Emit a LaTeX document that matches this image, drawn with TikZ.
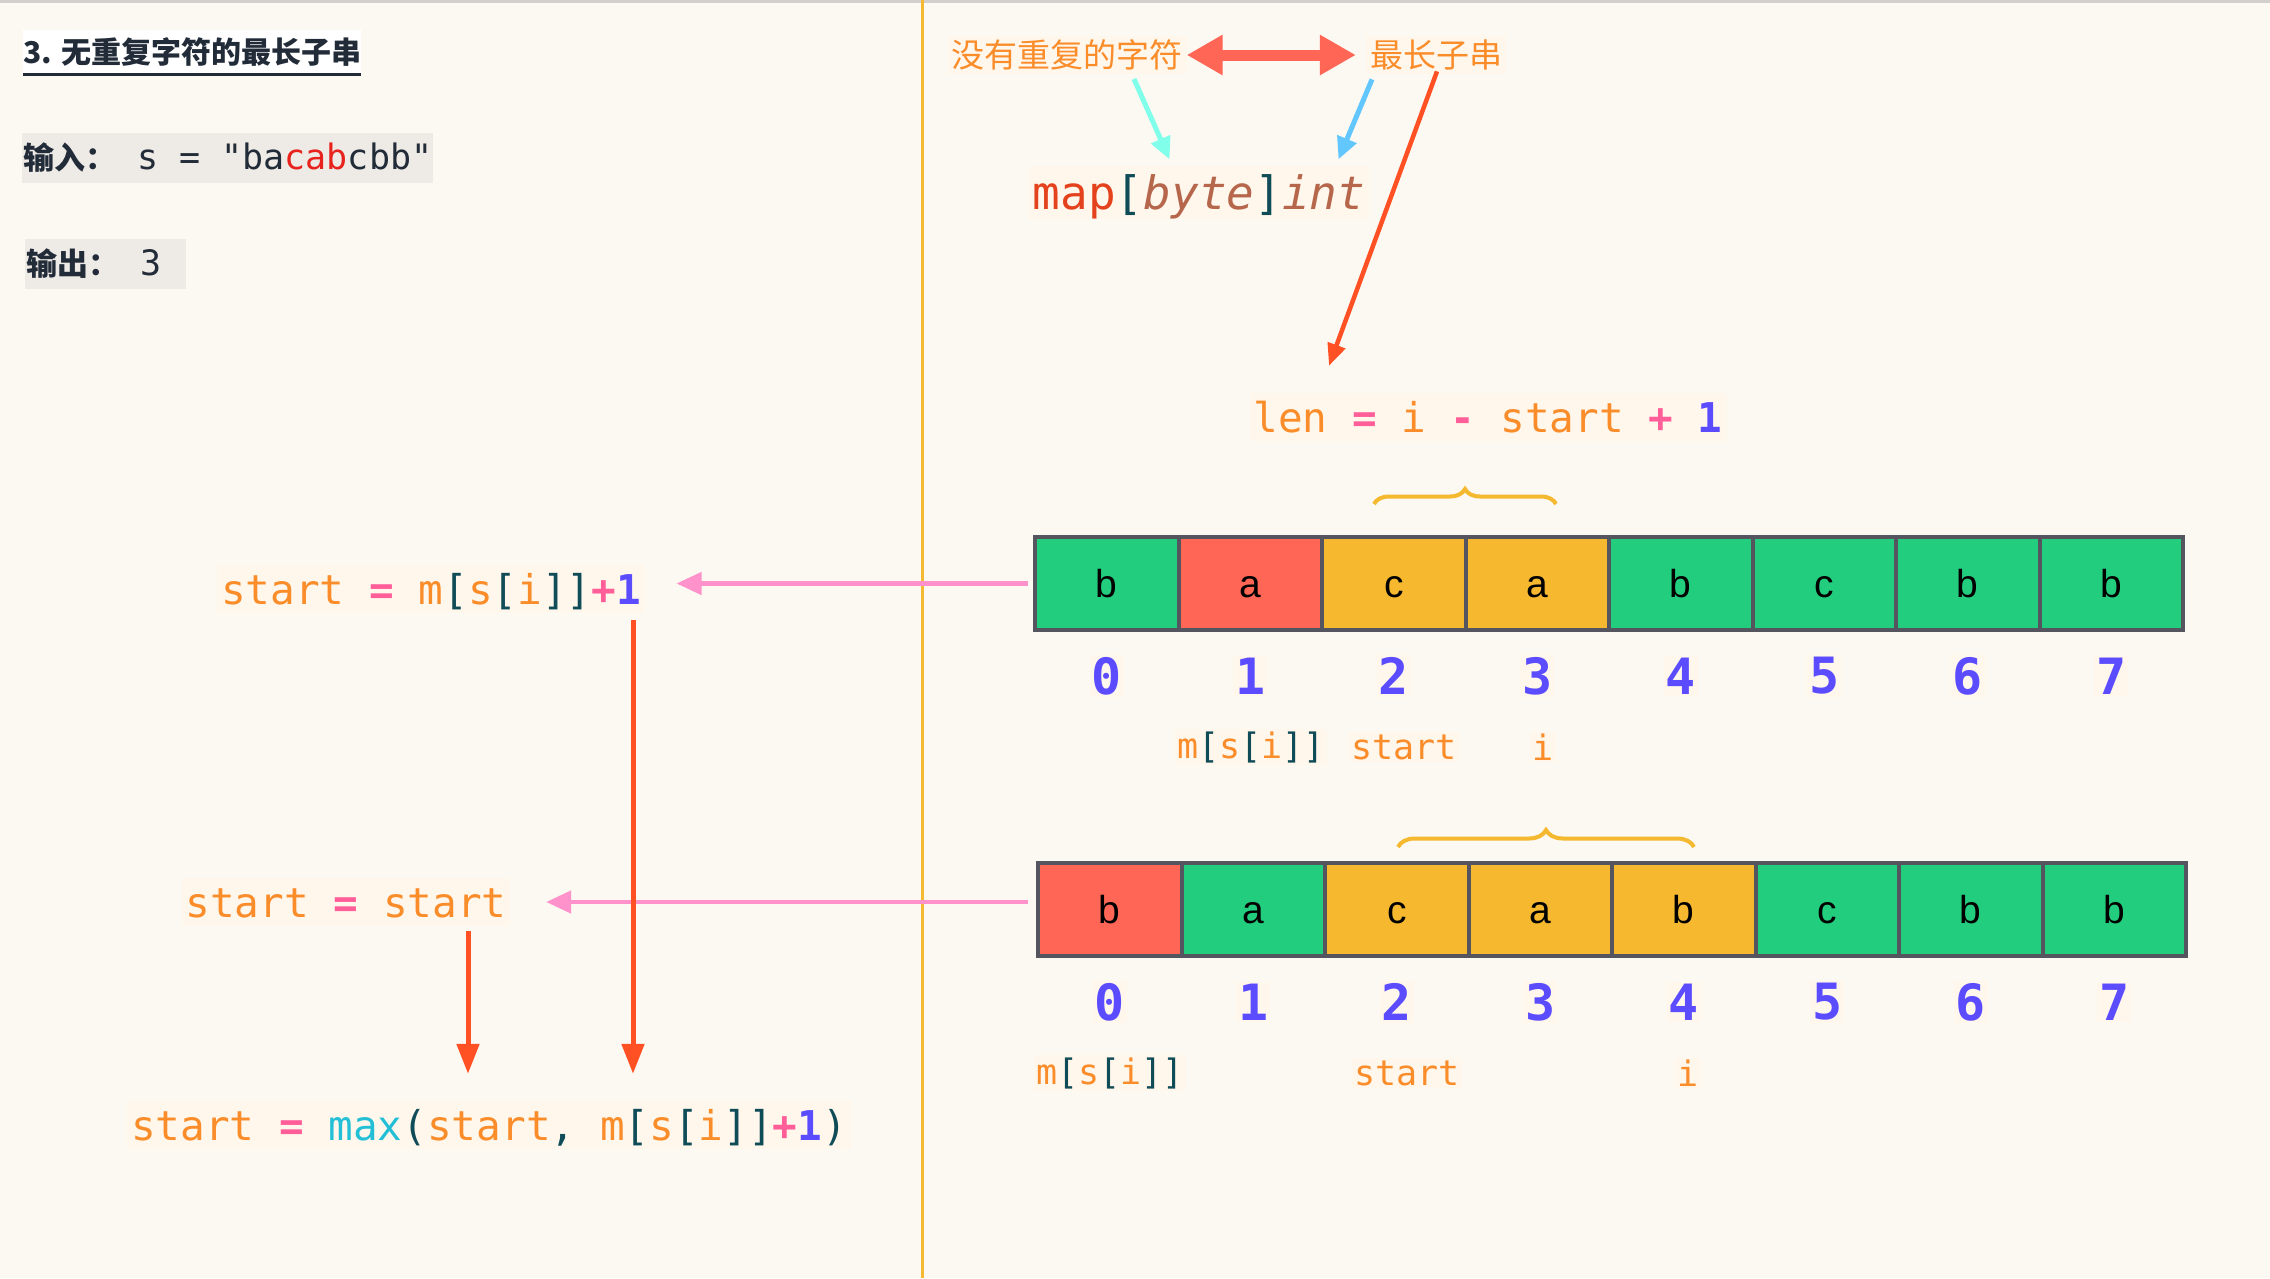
\documentclass[tikz,border=0pt]{standalone}
\usepackage{fontspec}
\setmonofont{DejaVu Sans Mono}
\setsansfont{Liberation Sans}
\newfontfamily\cjk{Noto Sans CJK SC}
\usetikzlibrary{arrows.meta,decorations.pathreplacing}
\definecolor{bgc}{HTML}{FCF8F2}
\definecolor{topgray}{HTML}{D2D0CD}
\definecolor{vline}{HTML}{F6B932}
\definecolor{codebg}{HTML}{FFF7EC}
\definecolor{codeor}{HTML}{FA8C2A}
\definecolor{oppink}{HTML}{FF5E98}
\definecolor{numblue}{HTML}{5B4CFF}
\definecolor{brteal}{HTML}{0F4C57}
\definecolor{fncyan}{HTML}{22BFD6}
\definecolor{mapred}{HTML}{E4421C}
\definecolor{typebrown}{HTML}{B5664B}
\definecolor{arrred}{HTML}{FF5123}
\definecolor{arrpink}{HTML}{FF92CB}
\definecolor{dblred}{HTML}{FF6655}
\definecolor{arrcyan}{HTML}{80FFEA}
\definecolor{arrblue}{HTML}{62C6FF}
\definecolor{cg}{HTML}{22CE7E}
\definecolor{cr}{HTML}{FF6655}
\definecolor{cy}{HTML}{F6B82E}
\definecolor{cellborder}{HTML}{55555F}
\definecolor{bracec}{HTML}{F5B930}
\definecolor{titledark}{HTML}{222B38}
\definecolor{cabred}{HTML}{E8231E}
\definecolor{graybox}{HTML}{EEEAE6}
\newcommand\cO[1]{\textcolor{codeor}{#1}}
\newcommand\cP[1]{\textcolor{oppink}{\bfseries #1}}
\newcommand\cN[1]{\textcolor{numblue}{\bfseries #1}}
\newcommand\cT[1]{\textcolor{brteal}{#1}}
\newcommand\msi{\cO{m}\cT{[}\cO{s}\cT{[}\cO{i}\cT{]]}}
\begin{document}
\begin{tikzpicture}[x=1pt,y=-1pt,
  code/.style={font=\ttfamily\fontsize{41}{49}\selectfont, fill=codebg, inner sep=4pt, text height=35pt, text depth=5pt},
  cell/.style={draw=cellborder, line width=4pt, minimum width=143.5pt, minimum height=93pt, inner sep=0pt, text height=28pt, text depth=0pt, font=\sffamily\fontsize{39}{46}\selectfont, text=black},
  idx/.style={font=\ttfamily\bfseries\fontsize{50}{60}\selectfont, text=numblue, fill=codebg, inner sep=2pt},
  lab/.style={font=\ttfamily\fontsize{35}{42}\selectfont, text=codeor, fill=codebg, inner sep=2pt},
  cjklab/.style={font=\cjk\fontsize{33}{40}\selectfont, text=codeor, fill=codebg, inner sep=4pt},
  redarr/.style={draw=arrred, line width=5pt, -{Triangle[length=30pt,width=22pt]}},
  reddiag/.style={draw=arrred, line width=4.5pt, -{Triangle[length=22pt,width=18pt]}},
  pinkarr/.style={draw=arrpink, line width=4.5pt, -{Triangle[length=25pt,width=22pt]}},
  dblarr/.style={draw=dblred, line width=11pt, {Triangle[length=36pt,width=38pt]}-{Triangle[length=36pt,width=38pt]}},
  thinarr/.style={line width=5pt, -{Triangle[length=22pt,width=20pt]}},
  bracestyle/.style={draw=bracec, line width=4pt, decorate}
]
\useasboundingbox (0,0) rectangle (2270,1278);
\fill[bgc] (0,0) rectangle (2270,1278);
\fill[topgray] (0,0) rectangle (2270,3);
\draw[vline, line width=3pt] (922,0) -- (922,1278);

% left header
\node[anchor=west, fill=white, inner xsep=0pt, minimum height=44pt, font=\cjk\bfseries\fontsize{30}{36}\selectfont, text=titledark] (title) at (23,52) {3. 无重复字符的最长子串};
\draw[titledark, line width=3pt] (title.south west) -- (title.south east);
\node[anchor=west, fill=graybox, inner xsep=1pt, inner ysep=0pt, minimum height=50pt, text=titledark] (inp) at (22,158)
  {{\cjk\bfseries\fontsize{31}{36}\selectfont 输入：}{\ttfamily\fontsize{35}{40}\selectfont\ s = "ba\textcolor{cabred}{cab}cbb"}};
\node[anchor=west, fill=graybox, inner xsep=1pt, inner ysep=0pt, minimum height=50pt, text=titledark] (outp) at (25,264)
  {{\cjk\bfseries\fontsize{31}{36}\selectfont 输出：}{\ttfamily\fontsize{35}{40}\selectfont\ 3}\hspace{24pt}\mbox{}};

% right header
\node[cjklab] (t1) at (1067,55) {没有重复的字符};
\node[cjklab] (t2) at (1436,55) {最长子串};
\node[code, font=\ttfamily\fontsize{46}{54}\selectfont, text height=40pt, text depth=5pt] (map) at (1199,192)
  {\textcolor{mapred}{map}\cT{[}\textcolor{typebrown}{\itshape byte}\cT{]}\textcolor{typebrown}{\itshape int}};
\node[code] (len) at (1488,417) {\cO{len} \cP{=} \cO{i} \cP{-} \cO{start} \cP{+} \cN{1}};

\draw[dblarr, shorten >=10pt] (t1.east) -- (t2.west);
\draw[thinarr, draw=arrcyan] ([shift={(67,4.5)}]t1.south) -- ([shift={(-29.5,-6)}]map.north);
\draw[thinarr, draw=arrblue] ([shift={(-64,5)}]t2.south) -- ([shift={(139.5,-6)}]map.north);
\draw[reddiag] ([shift={(1,-3)}]t2.south) -- ([shift={(-159,-27)}]len.north);

% arrays
\foreach \L/\C [count=\i from 0] in {b/cg,a/cr,c/cy,a/cy,b/cg,c/cg,b/cg,b/cg}{
  \node[cell, fill=\C] (a\i) at ({1035+143.5*(\i+0.5)},583.5) {\L};
  \node[idx] (ia\i) at ({1035+143.5*(\i+0.5)},676) {\i};
}
\foreach \L/\C [count=\i from 0] in {b/cr,a/cg,c/cy,a/cy,b/cy,c/cg,b/cg,b/cg}{
  \node[cell, fill=\C] (b\i) at ({1038+143.5*(\i+0.5)},909) {\L};
  \node[idx] (ib\i) at ({1038+143.5*(\i+0.5)},1002) {\i};
}
\draw[bracestyle, decoration={brace, amplitude=15pt}] (1374,504) -- (1556,504);
\draw[bracestyle, decoration={brace, amplitude=17pt}] (1398,847) -- (1694,847);

\node[lab] (lm1) at (1251,747) {\msi};
\node[lab] (ls1) at (1404,747) {start};
\node[lab] (li1) at (1543,747) {i};
\node[lab] (lm2) at (1110,1073) {\msi};
\node[lab] (ls2) at (1407,1073) {start};
\node[lab] (li2) at (1688,1073) {i};

% left equations
\node[code] (eq1) at (431,589) {\cO{start} \cP{=} \msi\cP{+}\cN{1}};
\node[code] (eq2) at (346,902) {\cO{start} \cP{=} \cO{start}};
\node[code] (eqmax) at (489,1125) {\cO{start} \cP{=} \textcolor{fncyan}{max}\cT{(}\cO{start}\cT{,} \msi\cP{+}\cN{1}\cT{)}};

\draw[pinkarr, shorten <=5pt, shorten >=31.5pt] (a0.west) -- (a0.west -| eq1.east);
\draw[pinkarr, shorten <=8pt, shorten >=35.5pt] (b0.west |- eq2.east) -- (eq2.east);

\coordinate (vx1) at (633,0);
\coordinate (vx2) at (468,0);
\draw[redarr, shorten <=7pt, shorten >=27pt] (eq1.south -| vx1) -- (eqmax.north -| vx1);
\draw[redarr, shorten <=5pt, shorten >=27pt] (eq2.south -| vx2) -- (eqmax.north -| vx2);
\end{tikzpicture}
\end{document}
